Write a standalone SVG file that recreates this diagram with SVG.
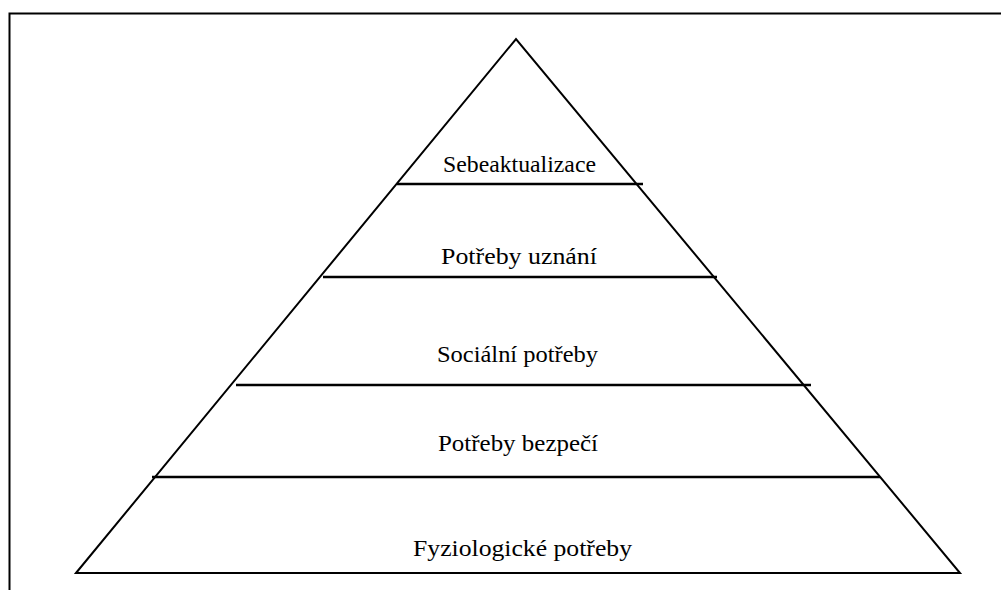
<svg xmlns="http://www.w3.org/2000/svg" width="1001" height="590" viewBox="0 0 1001 590">
<style>
.frame{fill:none;stroke:#000;stroke-width:2}
.edge{fill:none;stroke:#000;stroke-width:2}
.lvl{stroke:#000;stroke-width:2.5}
.lbl{font-family:"Liberation Serif","Times New Roman",serif;font-size:23px;fill:#000;text-anchor:middle}
</style>
<rect width="1001" height="590" fill="#fff"/>
<path class="frame" d="M9.5 600 V13.5 H1001"/>
<g id="pyramid">
<path class="edge" d="M76 573 L516 39 L960 573 Z"/>
</g>
<g id="connectors">
<line class="lvl" x1="397" y1="184" x2="643" y2="184"/>
<line class="lvl" x1="323" y1="277" x2="717" y2="277"/>
<line class="lvl" x1="236" y1="385" x2="811" y2="385"/>
<line class="lvl" x1="152" y1="477" x2="880" y2="477"/>
</g>
<g id="n1"><text class="lbl" x="519.5" y="172" textLength="153" lengthAdjust="spacingAndGlyphs">Sebeaktualizace</text></g>
<g id="n2"><text class="lbl" x="519" y="264" textLength="156" lengthAdjust="spacingAndGlyphs">Potřeby uznání</text></g>
<g id="n3"><text class="lbl" x="517.5" y="362" textLength="161" lengthAdjust="spacingAndGlyphs">Sociální potřeby</text></g>
<g id="n4"><text class="lbl" x="518" y="451" textLength="160" lengthAdjust="spacingAndGlyphs">Potřeby bezpečí</text></g>
<g id="n5"><text class="lbl" x="522.5" y="556" textLength="219" lengthAdjust="spacingAndGlyphs">Fyziologické potřeby</text></g>
</svg>
